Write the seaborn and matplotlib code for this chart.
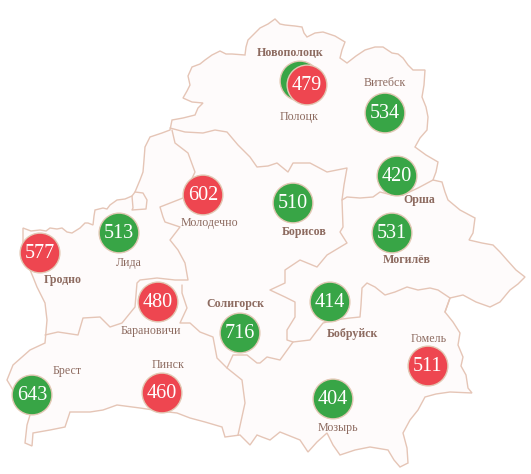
import matplotlib
matplotlib.use("Agg")
import matplotlib.pyplot as plt
import pandas as pd
import seaborn as sns

# Cities: position on the map image, value (None = hidden behind a neighbour), status
cities = ["Новополоцк", "Полоцк", "Витебск", "Орша", "Борисов", "Молодечно", "Могилёв", "Лида",
          "Гродно", "Барановичи", "Солигорск", "Бобруйск", "Гомель", "Мозырь", "Брест", "Пинск"]
city_x = [300, 307, 385, 397, 293, 203, 392, 119, 40, 158, 240, 330, 428, 333, 32, 162]
city_y = [81, 85, 113, 176, 203, 195, 233, 233, 253, 302, 333, 302, 366, 399, 395, 393]
values = [None, 479, 534, 420, 510, 602, 531, 513, 577, 480, 716, 414, 511, 404, 643, 460]
status = ["low", "high", "low", "low", "low", "high", "low", "low", "high", "high", "low", "low",
          "high", "low", "low", "high"]

# Labels
label_x = [290, 299, 385, 419, 304, 209, 407, 129, 63, 151, 235, 352, 429, 338, 67, 168]
label_y = [53, 117, 83, 200, 232, 223, 260, 263, 280, 331, 304, 334, 339, 428, 371, 365]
label_bold = [True, False, False, True, True, False, True, False, True, False, True, True,
              False, False, False, False]

# Country outline (geography)
outer = [(23,228),(31,231),(40,230),(46,231),(50,228),(57,229),(62,228),(67,232),(72,233),(80,228),(85,223),(88,223),
         (93,225),(94,216),(95,210),(103,208),(107,209),(110,205),(117,200),(125,199),(132,196),(135,192),(140,180),
         (143,172),(144,160),(145,147),(150,137),(162,133),(170,130),(172,120),(183,118),(195,115),(198,108),(203,103),
         (192,102),(183,98),(187,91),(190,85),(188,76),(192,67),(200,64),(205,60),(212,55),(220,51),(226,54),
         (232,54),(245,55),(246,47),(248,40),(254,34),(260,28),(268,24),(275,19),(280,24),(285,25),(295,26),(302,27),
         (304,33),(307,37),(315,33),(323,32),(335,36),(345,42),(342,50),(340,58),(347,63),(356,56),(365,50),(375,47),
         (383,47),(392,53),(398,54),(403,58),(408,65),(413,70),(425,70),(424,85),(422,97),(426,107),(428,117),
         (427,130),(420,138),(415,147),(426,155),(438,162),(436,172),(433,180),(442,182),(445,192),(448,200),(460,210),
         (475,218),(473,233),(469,240),(482,243),(493,245),(500,252),(507,260),(516,270),(525,277),(518,284),(510,290),
         (500,302),(490,307),(476,302),(463,295),(450,298),(445,312),(453,322),(460,333),(458,345),(463,357),
         (461,366),(466,375),(468,388),(472,393),(450,392),(436,394),(425,397),(418,410),(410,420),(403,433),(407,448),
         (408,463),(400,467),(394,460),(388,450),(370,447),(355,450),(340,455),(333,445),(327,433),(317,442),(308,452),
         (300,440),(290,436),(280,432),(270,440),(262,437),(257,435),(250,445),(240,435),(225,437),(222,427),
         (205,422),(190,418),(177,413),(160,411),(140,408),(117,405),(103,410),(90,412),(70,412),(65,427),
         (50,430),(33,433),(32,446),(25,443),(27,425),(30,415),(20,400),(13,390),(7,380),(13,365),(30,350),
         (45,343),(47,320),(45,303),(37,287),(33,277),(28,265),(23,253)]
minsk_north = [(170,128),(185,132),(203,133),(215,130),(227,132),(238,145),(250,157),(257,167),(268,166),
               (277,163),(288,172),(293,163),(310,163),(327,172),(347,168),(344,185),(342,200),(343,227),
               (340,232),(347,243),(327,255),(317,267),(300,260),(285,270),(285,283),(270,290),(285,297),
               (295,302),(295,317),(287,330),(287,340),(293,342),(280,360),(267,357),(260,363),(257,363),
               (247,355),(233,355),(227,368)]
mogilev_south = [(342,200),(347,197),(360,198),(373,197),(380,192),(392,195),(403,195),(418,188),(433,180)]
gomel_north = [(445,312),(450,298),(438,290),(430,288),(418,290),(407,287),(395,292),(385,295),(375,287),
               (367,283),(362,288),(361,305),(360,317),(350,318),(335,320),(323,323),(316,332),(310,340),(293,342)]
grodno_south = [(45,335),(58,332),(78,335),(83,318),(100,317),(110,327),(122,323),(135,307),(137,283),
                (140,280),(157,278),(175,280),(188,280),(185,263),(178,250),(170,240),(180,227),(165,222),
                (163,217),(160,207),(183,198),(195,172),(188,153),(175,143),(172,130)]
brest_east = [(182,285),(182,293),(187,308),(180,323),(190,323),(200,332),(213,337),(217,358),(227,368),
              (242,380),(245,403),(238,435)]
lida_pocket = [(132,196),(133,208),(132,210),(146,209),(147,200),(143,193),(135,192)]
inner_borders = [minsk_north, mogilev_south, gomel_north, grodno_south, brest_east, lida_pocket]

border_color = "#e5c5b6"
text_color = "#8d6b60"

sns.set_style("white")
fig, ax = plt.subplots(figsize=(5.31, 4.74), dpi=100)
ax.set_position([0, 0, 1, 1])

ax.fill(*zip(*outer), facecolor="#fefbfb", edgecolor=border_color, linewidth=1.0, zorder=1)
for border in inner_borders:
    frame = pd.DataFrame(border, columns=["x", "y"])
    sns.lineplot(data=frame, x="x", y="y", sort=False, estimator=None, color=border_color,
                 linewidth=1.0, ax=ax, zorder=1)

df = pd.DataFrame({"x": city_x, "y": city_y, "status": status})
sns.scatterplot(data=df, x="x", y="y", hue="status",
                palette={"low": "#38a546", "high": "#ee4650"},
                s=820, edgecolor="#e2c8b4", linewidth=1.0, legend=False, ax=ax, zorder=3)

for x, y, v in zip(city_x, city_y, values):
    if v is not None:
        ax.text(x, y + 0.5, str(v), ha="center", va="center", color="white",
                family="Liberation Serif", fontsize=14.5, zorder=4)
for name, x, y, b in zip(cities, label_x, label_y, label_bold):
    ax.text(x, y, name, ha="center", va="center", color=text_color, family="Liberation Serif",
            fontsize=8.6, fontweight="bold" if b else "normal", zorder=4)

ax.set_xlim(0, 531)
ax.set_ylim(474, 0)
ax.set_xlabel("")
ax.set_ylabel("")
ax.axis("off")
fig.savefig("out.png", dpi=100)
